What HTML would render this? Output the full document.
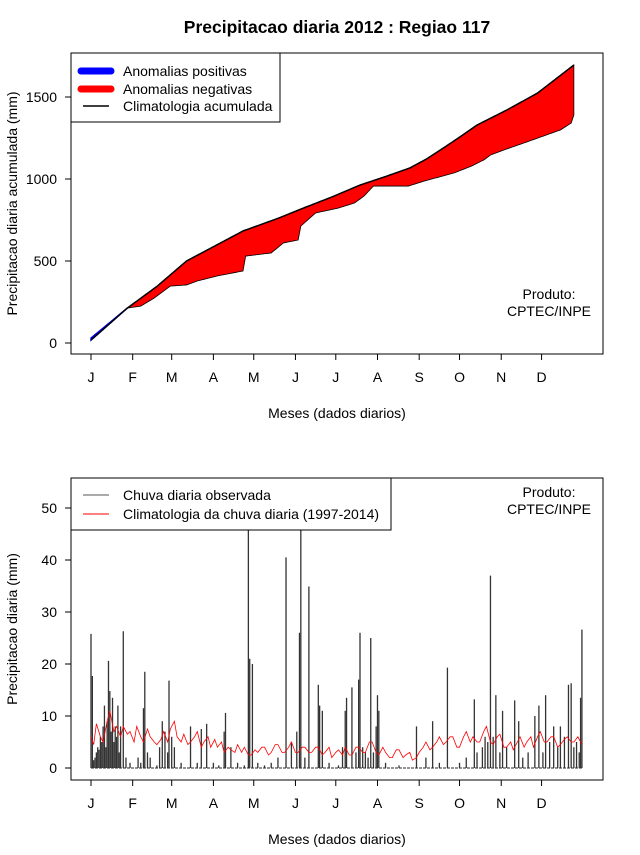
<!DOCTYPE html>
<html><head><meta charset="utf-8"><style>
body{margin:0;background:#fff;}
svg text{font-family:"Liberation Sans",sans-serif;}
</style></head><body>
<svg id="c" width="640" height="850" xmlns="http://www.w3.org/2000/svg">
<rect width="640" height="850" fill="#fff"/>
<text x="337" y="33" text-anchor="middle" font-size="17.5" font-weight="bold">Precipitacao diaria 2012 : Regiao 117</text>
<g id="top"></g><g id="bot"></g>
</svg>
<script>
// Top: accumulated precipitation knots
const climDays=[1,28,50,72,95,114,140,159,180,201,220,238,250,263,275,288,310,333,345,360];
const climVals=[18,213,345,500,600,683,760,823,890,963,1015,1067,1120,1189,1255,1329,1420,1524,1600,1695];
const obsDays=[1,28,38,48,60,72,80,95,114,116,135,144,155,157,168,185,197,204,211,237,249,271,284,293,298,308,323,350,358,360];
const obsVals=[30,213,225,274,347,354,378,409,439,530,549,610,628,713,793,823,854,896,957,957,988,1037,1079,1116,1146,1177,1220,1299,1341,1390];
const topTicks=[0,500,1000,1500];
const months=["J","F","M","A","M","J","J","A","S","O","N","D"];
const monthStart=[1,32,61,92,122,153,183,214,245,275,306,336];
// Bottom: daily rain observed [day,value] and climatology
const rainDays=[1,2,3,4,5,6,7,8,9,10,11,12,13,14,15,16,17,18,19,20,21,22,23,25,27,30,36,38,40,41,43,45,50,52,54,56,58,59,61,63,68,75,80,83,87,92,96,100,101,105,110,115,118,119,121,125,130,135,140,146,150,154,156,157,160,163,170,171,173,178,185,188,190,191,195,198,200,201,203,205,207,209,211,213,214,215,220,230,243,250,255,260,266,275,280,286,288,292,294,296,298,300,302,305,307,310,316,319,322,326,331,334,337,339,342,345,348,350,353,356,358,360,362,364,365,366];
const rainVals=[25.8,17.7,1.5,2,3,4,3.5,6,5,8,12,4,9,20.6,14.8,7,13.5,5,8,6,12,3,8,26.3,2,1,2,1,11.5,18.5,3,2,0.5,4,9,7,3,16.8,6,4,1,8,1,7.5,8.5,1,0.5,7,10.6,4,1,0.5,60,21,20,1,0.5,1,2,40.5,5,7,26,70,2,34.9,16,12,11,1,0.5,4,11,13.5,15.5,3,17,26,4,3,2,25,3,8,14,11,1,0.5,8,2,9,1,19.3,1,2,13.2,3,4,6,5,37,6,14,3,11,4,13,9,2,3,10,12,3,14,5,8,4,8,6,16,16.3,4,5,3,13.5,26.6];
const climDDays=[1,3,5,8,10,13,15,18,20,23,25,28,30,33,35,38,40,43,45,48,50,53,55,58,60,63,65,68,70,73,75,78,80,83,85,88,90,93,95,98,100,103,105,108,110,113,115,118,120,123,125,128,130,133,135,138,140,143,145,148,150,153,155,158,160,163,165,168,170,173,175,178,180,183,185,188,190,193,195,198,200,203,205,208,210,213,215,218,220,223,225,228,230,233,235,238,240,243,245,248,250,253,255,258,260,263,265,268,270,273,275,278,280,283,285,288,290,293,295,298,300,303,305,308,310,313,315,318,320,323,325,328,330,333,335,338,340,343,345,348,350,353,355,358,360,363,366];
const climDVals=[6,4.5,8.5,6,5,9,11,7,8,6,8,6.5,7,5,8,6,5,7.5,6,5,4.5,5.5,7,5,7.5,9,6,5,6.5,4.5,5,6,7,4,5,6,4,5.5,4,5,3,4,3.5,3,4.5,3,4,2.5,2.5,3.5,3,4,4,2.5,3,4.5,4.5,3,3,4,5,3,3,4,4,3,3,4,4,2.5,3,4,2,3,3.5,2.5,4,2.5,2.5,4,4,3,3,5,5,3,2.5,4,3,2,2,3.5,3.5,2,2.5,3,1.5,2,3,4,5,3.5,4,5,6,4.5,5,6,6,4,4,6,7,5,6,5,5,7,8,5,4.5,6,6.5,4,4,5,3.5,5,6,4,5,6,4,6,7,5,5,6,6,4,4.5,5.5,6,5,5,6,4.5];
const botTicks=[0,10,20,30,40,50];

const NS="http://www.w3.org/2000/svg";
function el(p,t,a){const e=document.createElementNS(NS,t);for(const k in a)e.setAttribute(k,a[k]);p.appendChild(e);return e;}
const xD=d=>91+(d-1)*1.345;
const yT=v=>343-v*82/500;
const yB=v=>768-v*5.2;
function interp(ds,vs,d){for(let i=1;i<ds.length;i++){if(d<=ds[i]){const t=(d-ds[i-1])/(ds[i]-ds[i-1]);return vs[i-1]+t*(vs[i]-vs[i-1]);}}return vs[vs.length-1];}

function axes(g,y0,yTop,yBot,yf,ticks,ytitle,prefix){
  const box=el(g,'rect',{x:71,y:yTop,width:532,height:yBot-yTop,fill:'none',stroke:'#000','stroke-width':1});
  
  
  el(g,'line',{x1:xD(monthStart[0]),x2:xD(monthStart[11]),y1:yBot,y2:yBot,stroke:'#000'});
  months.forEach((m,i)=>{const x=xD(monthStart[i]);
    el(g,'line',{x1:x,x2:x,y1:yBot,y2:yBot+6,stroke:'#000'});
    const t=el(g,'text',{x:x,y:yBot+28,'text-anchor':'middle','font-size':14});t.textContent=m;
    
    });
  el(g,'line',{x1:71,x2:71,y1:yf(ticks[0]),y2:yf(ticks[ticks.length-1]),stroke:'#000'});
  ticks.forEach(v=>{const y=yf(v);el(g,'line',{x1:65,x2:71,y1:y,y2:y,stroke:'#000'});
    const t=el(g,'text',{x:57,y:y+5,'text-anchor':'end','font-size':14});t.textContent=v;
    
    });
  const xt=el(g,'text',{x:337,y:yBot+64,'text-anchor':'middle','font-size':14});xt.textContent='Meses (dados diarios)';
  
  
  const yc=(yTop+yBot)/2;
  const yt=el(g,'text',{x:17,y:yc,'text-anchor':'middle','font-size':14,transform:`rotate(-90 17 ${yc})`});yt.textContent=ytitle;
  
  
}

// TOP
const gt=document.getElementById('top');
let pc=[],po=[];
for(let d=1;d<=360;d++){pc.push([xD(d),yT(interp(climDays,climVals,d))]);po.push([xD(d),yT(interp(obsDays,obsVals,d))]);}
const redPts=pc.map(p=>p.join(',')).concat(po.slice().reverse().map(p=>p.join(','))).join(' ');
const red=el(gt,'polygon',{points:redPts,fill:'#ff0000',stroke:'#000','stroke-width':0.8});


let bp=[],bo=[];for(let d=1;d<=28;d++){const c=interp(climDays,climVals,d),o=interp(obsDays,obsVals,d);bp.push([xD(d),yT(Math.max(c,o))]);bo.push([xD(d),yT(c)]);}
const blue=el(gt,'polygon',{points:bp.map(p=>p.join(',')).concat(bo.reverse().map(p=>p.join(','))).join(' '),fill:'#0000ff',stroke:'#0000ff','stroke-width':1.5});


const cl=el(gt,'polyline',{points:pc.map(p=>p.join(',')).join(' '),fill:'none',stroke:'#000','stroke-width':1.5});


axes(gt,343,53,354,yT,topTicks,'Precipitacao diaria acumulada (mm)','top');
const lg=el(gt,'g',{});


el(lg,'rect',{x:71,y:53,width:209,height:69,fill:'#fff',stroke:'#000'});
el(lg,'line',{x1:81,x2:111,y1:71,y2:71,stroke:'#0000ff','stroke-width':7,'stroke-linecap':'round'});
el(lg,'line',{x1:81,x2:111,y1:89,y2:89,stroke:'#ff0000','stroke-width':7,'stroke-linecap':'round'});
el(lg,'line',{x1:83,x2:109,y1:106,y2:106,stroke:'#000','stroke-width':1.5});
[['Anomalias positivas',76],['Anomalias negativas',94],['Climatologia acumulada',111]].forEach(a=>{const t=el(lg,'text',{x:123,y:a[1],'font-size':14});t.textContent=a[0];});
const pr=el(gt,'text',{x:549,y:299,'text-anchor':'middle','font-size':14});pr.textContent='Produto:';
const pr2=el(gt,'text',{x:549,y:316,'text-anchor':'middle','font-size':14});pr2.textContent='CPTEC/INPE';

// BOTTOM
const gb=document.getElementById('bot');
const cp=document.createElementNS(NS,'clipPath');cp.setAttribute('id','bc');gb.appendChild(cp);
el(cp,'rect',{x:71,y:478,width:532,height:302});
const bars=el(gb,'g',{'clip-path':'url(#bc)'});
el(bars,'line',{x1:xD(1),x2:xD(366),y1:yB(0),y2:yB(0),stroke:'#555','stroke-width':1.2,'stroke-dasharray':'3,1'});
rainDays.forEach((d,i)=>{const b=el(bars,'line',{x1:xD(d),x2:xD(d),y1:yB(0),y2:yB(rainVals[i]),stroke:'#333','stroke-width':1.3});
  
  });
const rl=el(bars,'polyline',{points:climDDays.map((d,i)=>xD(d)+','+yB(climDVals[i])).join(' '),fill:'none',stroke:'#ff0000','stroke-width':0.8});


axes(gb,768,478,780,yB,botTicks,'Precipitacao diaria (mm)','bottom');
const lg2=el(gb,'g',{});


el(lg2,'rect',{x:71,y:478,width:320,height:52,fill:'#fff',stroke:'#000'});
el(lg2,'line',{x1:83,x2:109,y1:495,y2:495,stroke:'#555','stroke-width':1});
el(lg2,'line',{x1:83,x2:109,y1:514,y2:514,stroke:'#ff0000','stroke-width':1});
[['Chuva diaria observada',500],['Climatologia da chuva diaria (1997-2014)',519]].forEach(a=>{const t=el(lg2,'text',{x:123,y:a[1],'font-size':14});t.textContent=a[0];});
const pb=el(gb,'text',{x:549,y:497,'text-anchor':'middle','font-size':14});pb.textContent='Produto:';
const pb2=el(gb,'text',{x:549,y:514,'text-anchor':'middle','font-size':14});pb2.textContent='CPTEC/INPE';
</script>
</body></html>
